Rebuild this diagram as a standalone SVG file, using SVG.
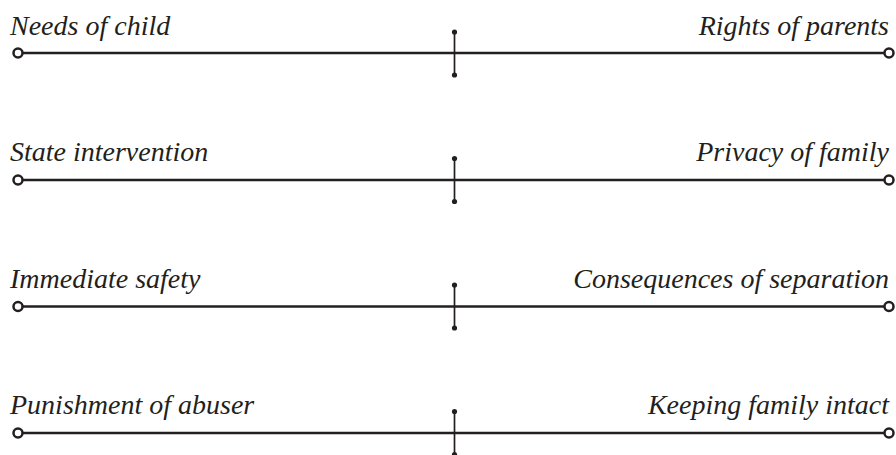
<svg xmlns="http://www.w3.org/2000/svg" width="896" height="455" viewBox="0 0 896 455">
<style>
.bg{fill:#ffffff}
.axis{stroke:#231f20;stroke-width:2.5;fill:none}
.tick{stroke:#231f20;stroke-width:1.7}
.end{fill:#ffffff;stroke:#231f20;stroke-width:2.5}
.dot{fill:#231f20}
.lbl{font-family:"Liberation Serif","DejaVu Serif",serif;font-style:italic;font-size:28px;fill:#231f20}
.r{text-anchor:end}
</style>
<rect class="bg" width="896" height="455"/>
<g id="connectors">
<line class="axis" x1="23" y1="53" x2="884" y2="53"/>
<line class="axis" x1="23" y1="180" x2="884" y2="180"/>
<line class="axis" x1="23" y1="306.5" x2="884" y2="306.5"/>
<line class="axis" x1="23" y1="433" x2="884" y2="433"/>
</g>
<g id="row1">
<circle class="end" cx="18" cy="53" r="4.5"/>
<circle class="end" cx="889" cy="53" r="4.5"/>
<line class="tick" x1="454.5" y1="32" x2="454.5" y2="75"/>
<circle class="dot" cx="454.5" cy="32" r="2.6"/>
<circle class="dot" cx="454.5" cy="75" r="2.6"/>
<text class="lbl" x="10" y="35">Needs of child</text>
<text class="lbl r" x="889" y="35">Rights of parents</text>
</g>
<g id="row2">
<circle class="end" cx="18" cy="180" r="4.5"/>
<circle class="end" cx="889" cy="180" r="4.5"/>
<line class="tick" x1="454.5" y1="158.5" x2="454.5" y2="201.5"/>
<circle class="dot" cx="454.5" cy="158.5" r="2.6"/>
<circle class="dot" cx="454.5" cy="201.5" r="2.6"/>
<text class="lbl" x="10" y="161">State intervention</text>
<text class="lbl r" x="889" y="161">Privacy of family</text>
</g>
<g id="row3">
<circle class="end" cx="18" cy="306.5" r="4.5"/>
<circle class="end" cx="889" cy="306.5" r="4.5"/>
<line class="tick" x1="454.5" y1="285" x2="454.5" y2="328"/>
<circle class="dot" cx="454.5" cy="285" r="2.6"/>
<circle class="dot" cx="454.5" cy="328" r="2.6"/>
<text class="lbl" x="10" y="288">Immediate safety</text>
<text class="lbl r" x="889" y="288">Consequences of separation</text>
</g>
<g id="row4">
<circle class="end" cx="18" cy="433" r="4.5"/>
<circle class="end" cx="889" cy="433" r="4.5"/>
<line class="tick" x1="454.5" y1="411.5" x2="454.5" y2="454.5"/>
<circle class="dot" cx="454.5" cy="411.5" r="2.6"/>
<circle class="dot" cx="454.5" cy="454.5" r="2.6"/>
<text class="lbl" x="10" y="414">Punishment of abuser</text>
<text class="lbl r" x="889" y="414">Keeping family intact</text>
</g>
</svg>
